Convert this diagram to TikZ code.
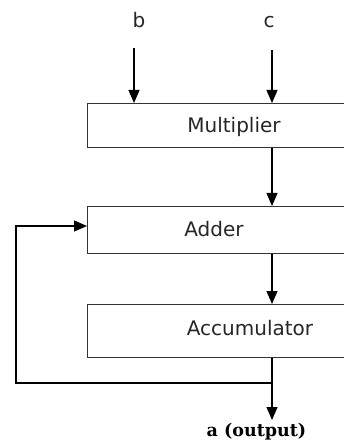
\documentclass[tikz,border=0pt]{standalone}
\usepackage{fontspec}
\setmainfont{DejaVu Sans}
\newfontfamily\labserif{DejaVu Serif}
\usetikzlibrary{arrows.meta}
\begin{document}
\begin{tikzpicture}[x=1pt,y=-1pt,
  blk/.style={draw=black!80, line width=1.1pt, rectangle, minimum width=313pt, inner sep=0pt, anchor=north west},
  lbl/.style={font=\fontsize{20}{24}\selectfont, text=black!85, anchor=base, inner sep=0pt},
  arr/.style={line width=1.1pt, -{Triangle[width=11pt,length=13pt]}},
  wire/.style={line width=1.1pt}]
\useasboundingbox (0,0) rectangle (344,443);
\clip (0,0) rectangle (344,443);
% blocks
\node[blk, minimum height=44pt] (mul) at (87,103) {};
\node[blk, minimum height=47pt] (add) at (87,206) {};
\node[blk, minimum height=53pt] (acc) at (87,304) {};
% block texts
\node[lbl] (tmul) at (234,132.7) {Multiplier};
\node[lbl] (tadd) at (214,236.7) {Adder};
\node[lbl] (tacc) at (250,335) {Accumulator};
% inputs
\node[lbl] (lb) at (139,28) {b};
\node[lbl] (lc) at (269,28) {c};
\coordinate (bs) at (134,48);
\coordinate (cs) at (272,50);
\coordinate (cx) at (272,0);
\draw[arr] (bs) -- (bs |- mul.north);
\draw[arr] (cs) -- (cs |- mul.north);
% chain
\draw[arr] (mul.south -| cx) -- (add.north -| cx);
\draw[arr] (add.south -| cx) -- (acc.north -| cx);
% output
\coordinate (out) at (272,420);
\draw[arr] (acc.south -| cx) -- (out);
\node[lbl, font=\labserif\bfseries\fontsize{17.5}{20}\selectfont, text=black] (lout) at (256.5,436) {a (output)};
% feedback
\coordinate (fb) at (272,383);
\coordinate (fl) at (16,383);
\coordinate (fu) at (16,226);
\draw[arr] (fb) -- (fl) -- (fu) -- (fu -| add.west);
\end{tikzpicture}
\end{document}
